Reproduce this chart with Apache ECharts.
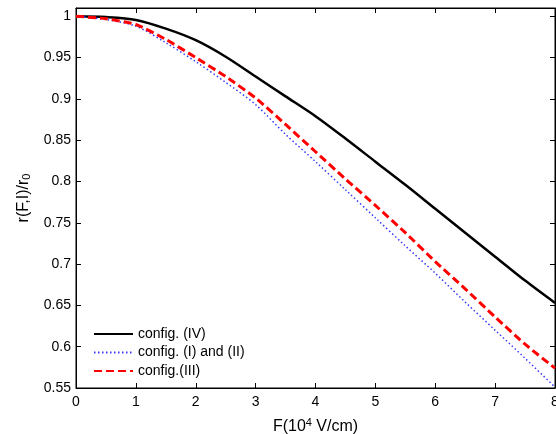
<!DOCTYPE html>
<html>
<head>
<meta charset="utf-8">
<script src="https://cdn.jsdelivr.net/npm/echarts@6/dist/echarts.min.js"></script>
<style>html,body{margin:0;padding:0;background:#fff}#c{width:556px;height:434px}</style>
</head>
<body>
<div id="c"></div>
<script>
var xValues = [0, 0.5, 1, 1.5, 2, 2.5, 3, 3.5, 4, 4.5, 5, 5.5, 6, 6.5, 7, 7.5, 8];
var configIV = [1.0, 0.999, 0.9955, 0.985, 0.971, 0.951, 0.927, 0.903, 0.879, 0.852, 0.824, 0.796, 0.767, 0.738, 0.709, 0.680, 0.653];
var configIandII = [1.0, 0.996, 0.988, 0.968, 0.945, 0.920, 0.893, 0.857, 0.824, 0.790, 0.756, 0.722, 0.689, 0.654, 0.620, 0.586, 0.551];
var configIII = [1.0, 0.997, 0.990, 0.972, 0.950, 0.927, 0.901, 0.869, 0.836, 0.803, 0.771, 0.738, 0.703, 0.670, 0.636, 0.603, 0.574];
var seriesNames = ['config. (IV)', 'config. (I) and (II)', 'config.(III)'];
var xTicks = [0, 1, 2, 3, 4, 5, 6, 7, 8];
var yTicks = [0.55, 0.6, 0.65, 0.7, 0.75, 0.8, 0.85, 0.9, 0.95, 1];

function pairs(ys) { return xValues.map(function (x, i) { return [x, ys[i]]; }); }

var font = 'Liberation Sans, Arial, Helvetica, sans-serif';
var chart = echarts.init(document.getElementById('c'));
function mkAxis(extra) {
  var a = {
    show: true,
    gridIndex: 0,
    axisLine: { show: true, onZero: false, lineStyle: { color: '#000', width: 1 } },
    axisTick: { show: true, inside: true, length: 5, lineStyle: { color: '#000', width: 1 } },
    splitLine: { show: false }
  };
  for (var k in extra) a[k] = extra[k];
  return a;
}
function yLabel(v) {
  for (var i = 0; i < yTicks.length; i++) if (Math.abs(yTicks[i] - v) < 1e-9) return String(yTicks[i]);
  return '';
}
chart.setOption({
  animation: false,
  backgroundColor: '#fff',
  textStyle: { fontFamily: font },
  grid: { left: 76, top: 8, width: 479, height: 380, containLabel: false, outerBoundsMode: 'none',
    show: true, borderColor: '#000', borderWidth: 1, backgroundColor: 'transparent' },
  xAxis: [
    mkAxis({
      type: 'value', min: 0, max: 8, interval: 1, position: 'bottom',
      axisLabel: { color: '#000', fontSize: 14, margin: 7, fontFamily: font },
      name: 'F(10{sup|4} V/cm)', nameLocation: 'middle', nameGap: 29,
      nameTextStyle: { color: '#000', fontSize: 16, fontFamily: font,
        rich: { sup: { fontSize: 11, verticalAlign: 'top', color: '#000', fontFamily: font, padding: [0, 0, 8, 0] } } }
    }),
    mkAxis({
      type: 'value', min: 0, max: 8, interval: 1, position: 'top',
      axisLabel: { show: true, color: 'rgba(0,0,0,0)', fontSize: 1 }
    })
  ],
  yAxis: [
    mkAxis({
      type: 'value', min: 0.55, max: 1.01, interval: 0.05, position: 'left',
      axisLabel: { color: '#000', fontSize: 14, margin: 5, fontFamily: font, formatter: yLabel },
      name: 'r(F,I)/r{sub|0}', nameLocation: 'middle', nameGap: 33, nameRotate: 90,
      nameTextStyle: { color: '#000', fontSize: 16, fontFamily: font,
        rich: { sub: { fontSize: 11, color: '#000', fontFamily: font, padding: [8, 0, 0, 0] } } }
    }),
    mkAxis({
      type: 'value', min: 0.55, max: 1.01, interval: 0.05, position: 'right',
      axisLabel: { show: true, color: 'rgba(0,0,0,0)', fontSize: 1, formatter: function () { return ''; } }
    })
  ],
  legend: {
    orient: 'vertical', left: 93, top: 327, padding: 0, itemGap: 4.5,
    itemWidth: 39, itemHeight: 14,
    itemStyle: { opacity: 0 },
    textStyle: { color: '#000', fontSize: 14, fontFamily: font },
    data: seriesNames
  },
  series: [
    { name: seriesNames[0], type: 'line', data: pairs(configIV), showSymbol: false, symbol: 'none', smooth: 0.3,
      lineStyle: { color: '#000', width: 2.5, type: 'solid' }, itemStyle: { color: '#000' } },
    { name: seriesNames[1], type: 'line', data: pairs(configIandII), showSymbol: false, symbol: 'none', smooth: 0.3,
      lineStyle: { color: '#3a3aff', width: 1.5, type: [1.5, 2.5] }, itemStyle: { color: '#3a3aff' } },
    { name: seriesNames[2], type: 'line', data: pairs(configIII), showSymbol: false, symbol: 'none', smooth: 0.2,
      lineStyle: { color: '#ff0000', width: 3, type: [8, 4] }, itemStyle: { color: '#ff0000' } },
    { type: 'line', xAxisIndex: 1, yAxisIndex: 1, data: [[0, 0.55]], symbol: 'none', silent: true, lineStyle: { opacity: 0 } }
  ]
});
</script>
</body>
</html>
